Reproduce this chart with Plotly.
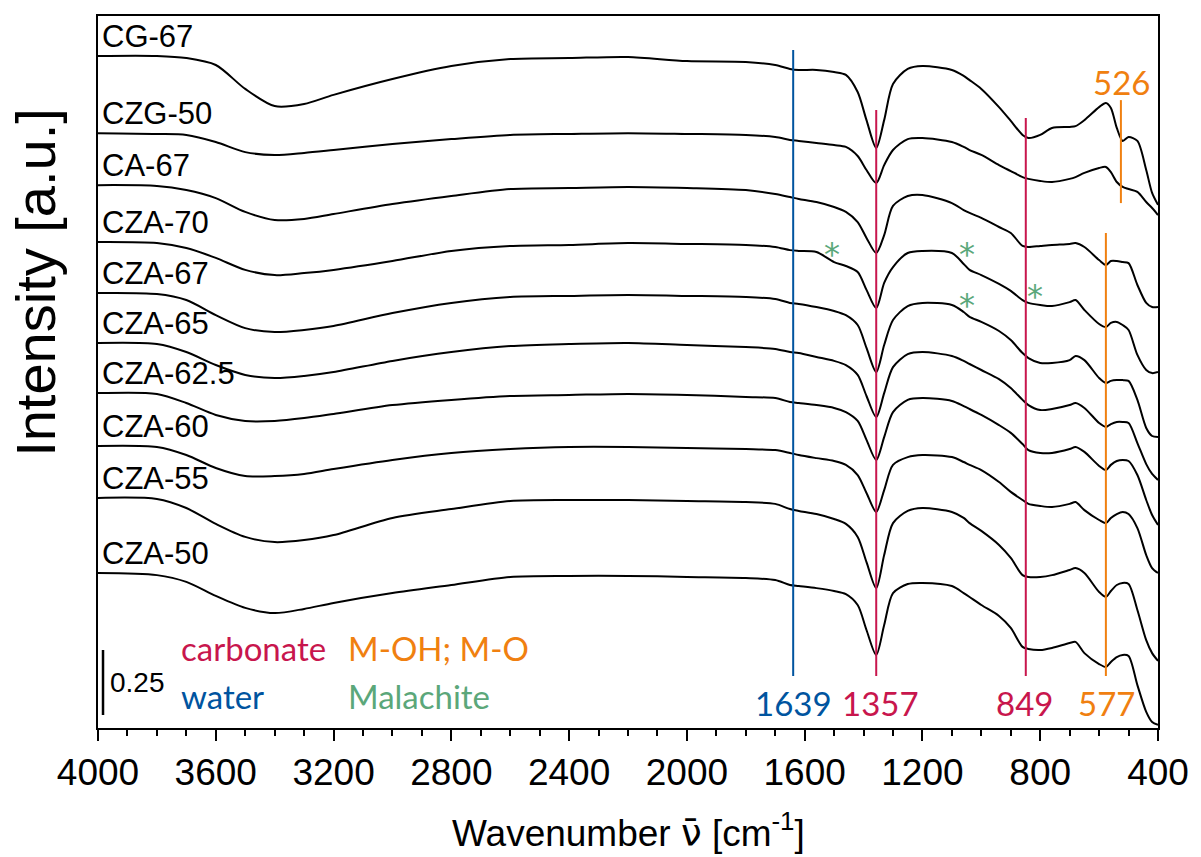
import plotly.graph_objects as go

# Wavenumber grid (cm^-1) shared by all spectra
wavenumber = [4000, 3800, 3700, 3600, 3500, 3400, 3300, 3200, 3000, 2800,
              2600, 2400, 2200, 2000, 1800, 1700, 1650, 1620, 1560, 1500,
              1460, 1420, 1390, 1357, 1330, 1300, 1250, 1200, 1100, 1060,
              1040, 1000, 940, 900, 860, 840, 800, 760, 700, 680,
              650, 600, 577, 560, 540, 520, 500, 470, 440, 420, 400]

samples = ["CG-67", "CZG-50", "CA-67", "CZA-70", "CZA-67",
           "CZA-65", "CZA-62.5", "CZA-60", "CZA-55", "CZA-50"]

# Stacked spectra, intensity in a.u. (offsets included)
cg_67 = [2.585, 2.585, 2.577, 2.550, 2.458, 2.392, 2.400, 2.435, 2.496, 2.546,
         2.573, 2.577, 2.581, 2.565, 2.562, 2.550, 2.535, 2.531, 2.531, 2.523,
         2.512, 2.446, 2.338, 2.231, 2.338, 2.477, 2.535, 2.546, 2.531, 2.508,
         2.492, 2.458, 2.388, 2.335, 2.281, 2.269, 2.281, 2.308, 2.312, 2.315,
         2.338, 2.388, 2.404, 2.385, 2.308, 2.258, 2.273, 2.258, 2.146, 2.058, 2.012]
czg_50 = [2.288, 2.285, 2.281, 2.254, 2.215, 2.204, 2.212, 2.223, 2.246, 2.265,
          2.281, 2.285, 2.288, 2.285, 2.281, 2.273, 2.262, 2.258, 2.250, 2.242,
          2.235, 2.200, 2.146, 2.096, 2.165, 2.223, 2.265, 2.269, 2.254, 2.235,
          2.223, 2.204, 2.165, 2.142, 2.119, 2.112, 2.104, 2.100, 2.112, 2.119,
          2.135, 2.154, 2.158, 2.138, 2.100, 2.081, 2.073, 2.062, 2.023, 2.000, 1.973]
ca_67 = [2.088, 2.085, 2.069, 2.038, 1.985, 1.954, 1.958, 1.977, 2.015, 2.046,
         2.073, 2.077, 2.081, 2.077, 2.069, 2.054, 2.042, 2.035, 2.023, 2.004,
         1.985, 1.946, 1.885, 1.827, 1.896, 2.008, 2.046, 2.050, 2.019, 1.992,
         1.981, 1.962, 1.927, 1.904, 1.854, 1.850, 1.854, 1.858, 1.862, 1.865,
         1.850, 1.800, 1.781, 1.796, 1.796, 1.792, 1.788, 1.704, 1.635, 1.619, 1.619]
cza_70 = [1.869, 1.865, 1.846, 1.808, 1.762, 1.742, 1.750, 1.762, 1.796, 1.835,
          1.854, 1.858, 1.865, 1.862, 1.858, 1.850, 1.838, 1.835, 1.831, 1.792,
          1.777, 1.754, 1.685, 1.615, 1.712, 1.773, 1.827, 1.835, 1.827, 1.785,
          1.762, 1.742, 1.708, 1.681, 1.646, 1.635, 1.627, 1.623, 1.638, 1.646,
          1.608, 1.554, 1.542, 1.558, 1.562, 1.550, 1.531, 1.435, 1.377, 1.365, 1.369]
cza_67 = [1.673, 1.669, 1.646, 1.588, 1.538, 1.523, 1.531, 1.546, 1.596, 1.635,
          1.658, 1.662, 1.665, 1.662, 1.658, 1.650, 1.635, 1.631, 1.619, 1.604,
          1.588, 1.550, 1.462, 1.369, 1.473, 1.569, 1.623, 1.635, 1.627, 1.600,
          1.581, 1.562, 1.527, 1.492, 1.442, 1.423, 1.404, 1.404, 1.415, 1.431,
          1.415, 1.346, 1.327, 1.335, 1.338, 1.338, 1.335, 1.262, 1.154, 1.123, 1.119]
cza_65 = [1.481, 1.477, 1.446, 1.396, 1.358, 1.346, 1.354, 1.369, 1.412, 1.446,
          1.469, 1.477, 1.481, 1.473, 1.465, 1.458, 1.446, 1.442, 1.427, 1.412,
          1.396, 1.358, 1.277, 1.196, 1.288, 1.388, 1.438, 1.446, 1.431, 1.412,
          1.400, 1.377, 1.342, 1.308, 1.262, 1.242, 1.223, 1.227, 1.242, 1.250,
          1.231, 1.173, 1.158, 1.169, 1.177, 1.177, 1.173, 1.096, 1.015, 0.977, 0.954]
cza_62_5 = [1.288, 1.285, 1.250, 1.204, 1.181, 1.181, 1.192, 1.208, 1.242, 1.262,
            1.277, 1.281, 1.285, 1.281, 1.273, 1.269, 1.254, 1.250, 1.242, 1.231,
            1.215, 1.181, 1.108, 1.031, 1.119, 1.215, 1.262, 1.269, 1.258, 1.238,
            1.227, 1.204, 1.165, 1.135, 1.092, 1.069, 1.058, 1.058, 1.073, 1.081,
            1.062, 1.008, 0.992, 1.012, 1.027, 1.031, 1.027, 0.973, 0.877, 0.819, 0.781]
cza_60 = [1.085, 1.081, 1.050, 1.000, 0.969, 0.969, 0.977, 0.996, 1.031, 1.058,
          1.073, 1.081, 1.081, 1.077, 1.073, 1.069, 1.058, 1.050, 1.038, 1.027,
          1.012, 0.973, 0.904, 0.831, 0.915, 1.012, 1.042, 1.050, 1.042, 1.023,
          1.012, 0.992, 0.946, 0.908, 0.877, 0.862, 0.854, 0.850, 0.862, 0.869,
          0.838, 0.800, 0.788, 0.808, 0.823, 0.831, 0.823, 0.769, 0.665, 0.615, 0.596]
cza_55 = [0.885, 0.881, 0.846, 0.785, 0.735, 0.715, 0.723, 0.742, 0.808, 0.842,
          0.873, 0.877, 0.877, 0.873, 0.869, 0.862, 0.842, 0.835, 0.823, 0.804,
          0.785, 0.735, 0.638, 0.538, 0.665, 0.788, 0.835, 0.846, 0.831, 0.808,
          0.788, 0.758, 0.704, 0.654, 0.588, 0.581, 0.581, 0.588, 0.608, 0.615,
          0.596, 0.523, 0.504, 0.527, 0.550, 0.558, 0.554, 0.454, 0.338, 0.288, 0.258]
cza_50 = [0.596, 0.588, 0.562, 0.508, 0.462, 0.442, 0.458, 0.481, 0.519, 0.550,
          0.581, 0.585, 0.585, 0.581, 0.577, 0.569, 0.550, 0.546, 0.538, 0.527,
          0.515, 0.473, 0.377, 0.281, 0.396, 0.519, 0.554, 0.558, 0.546, 0.519,
          0.504, 0.473, 0.431, 0.385, 0.312, 0.304, 0.300, 0.308, 0.327, 0.331,
          0.288, 0.246, 0.235, 0.254, 0.273, 0.281, 0.277, 0.165, 0.062, 0.023, 0.012]

spectra = [cg_67, czg_50, ca_67, cza_70, cza_67,
           cza_65, cza_62_5, cza_60, cza_55, cza_50]

# Band assignments
band_positions = [1639, 1357, 849, 577, 526]
band_groups = ["water", "carbonate", "carbonate", "M-OH; M-O", "M-OH; M-O"]
malachite_bands = [1508, 1050, 818, 1050]

# Scale bar length (a.u.)
scale_bar = 0.25

BLUE = "#00549F"
CRIMSON = "#C8164D"
ORANGE = "#F08010"
GREEN = "#5BA77A"
group_colors = {"water": BLUE, "carbonate": CRIMSON, "M-OH; M-O": ORANGE,
                "Malachite": GREEN}

SANS = "Liberation Sans, Arial, sans-serif"
HUMAN = "Lato, Open Sans, sans-serif"

fig = go.Figure()

for name, vals in zip(samples, spectra):
    fig.add_trace(go.Scatter(
        x=wavenumber, y=vals, mode="lines", name=name,
        line=dict(color="black", width=2, shape="spline", smoothing=0.8),
        showlegend=False, hoverinfo="skip"))
    fig.add_annotation(x=3993, y=vals[0], text=name, showarrow=False,
                       xanchor="left", yanchor="bottom",
                       font=dict(family=SANS, size=31, color="black"))

# Vertical band markers: (lower, upper) extent in a.u.
band_extent = [(0.20, 2.608), (0.20, 2.377), (0.20, 2.346), (0.20, 1.904), (2.019, 2.415)]
for pos, grp, (lo, hi) in zip(band_positions, band_groups, band_extent):
    col = group_colors[grp]
    fig.add_shape(type="line", x0=pos, x1=pos, y0=lo, y1=hi,
                  line=dict(color=col, width=2), layer="above")

# Band labels
band_label_y = [0.096, 0.096, 0.096, 0.096, 2.485]
band_label_dx = [0, 4, -1, 1, 1]
for pos, grp, ly, dx in zip(band_positions, band_groups, band_label_y, band_label_dx):
    fig.add_annotation(x=pos, y=ly, text=str(pos), showarrow=False,
                       xanchor="center", yanchor="middle", xshift=dx,
                       font=dict(family=HUMAN, size=33, color=group_colors[grp]))

# Malachite asterisks
star_y = [1.85, 1.85, 1.688, 1.654]
for pos, sy in zip(malachite_bands, star_y):
    fig.add_annotation(x=pos, y=sy, text="*", showarrow=False,
                       xanchor="center", yanchor="middle", yshift=-7,
                       font=dict(family="DejaVu Sans", size=32, color=GREEN))

# Scale bar
fig.add_shape(type="line", x0=3983, x1=3983, y0=0.05, y1=0.05 + scale_bar,
              line=dict(color="black", width=2.5))
fig.add_annotation(x=3966, y=0.05 + scale_bar / 2, text=f"{scale_bar:.2f}",
                   showarrow=False, xanchor="left", yanchor="middle",
                   font=dict(family=SANS, size=28, color="black"))

# Group key
key_items = [("carbonate", 0.0767, 0.1124), ("water", 0.0767, 0.045),
             ("M-OH; M-O", 0.2339, 0.1124), ("Malachite", 0.2339, 0.045)]
for txt, kx, ky in key_items:
    fig.add_annotation(xref="paper", yref="paper", x=kx, y=ky, text=txt,
                       showarrow=False, xanchor="left", yanchor="middle",
                       font=dict(family=HUMAN, size=33, color=group_colors[txt]))

# Axis titles
fig.add_annotation(xref="paper", yref="paper", x=0.5, y=-0.1447,
                   text="Wavenumber <span style='font-family:DejaVu Sans'>\u03bd\u0304</span> [cm<sup>-1</sup>]",
                   showarrow=False, xanchor="center", yanchor="middle",
                   font=dict(family=SANS, size=37, color="black"))
fig.add_annotation(xref="paper", yref="paper", x=-0.0589, y=0.626,
                   text="Intensity [a.u.]", showarrow=False, textangle=-90,
                   xanchor="center", yanchor="middle",
                   font=dict(family=SANS, size=56, color="black"))

fig.update_layout(
    width=1201, height=857,
    margin=dict(l=98, r=34, t=16, b=129),
    paper_bgcolor="white", plot_bgcolor="white",
    showlegend=False,
    xaxis=dict(range=[4000, 400], tick0=0, dtick=400, ticks="outside",
               ticklen=11, tickwidth=2, tickcolor="black",
               showline=True, linewidth=2, linecolor="black", mirror=True,
               showgrid=False, zeroline=False,
               tickfont=dict(family=SANS, size=37, color="black"),
               minor=dict(dtick=100, ticks="outside", ticklen=6, tickwidth=2,
                          tickcolor="black", showgrid=False)),
    yaxis=dict(range=[0, 2.7385], showticklabels=False, ticks="",
               showline=True, linewidth=2, linecolor="black", mirror=True,
               showgrid=False, zeroline=False),
)

fig.write_html("out.html",
               post_script="document.body.style.margin='0';"
                           "document.body.style.overflow='hidden';")
